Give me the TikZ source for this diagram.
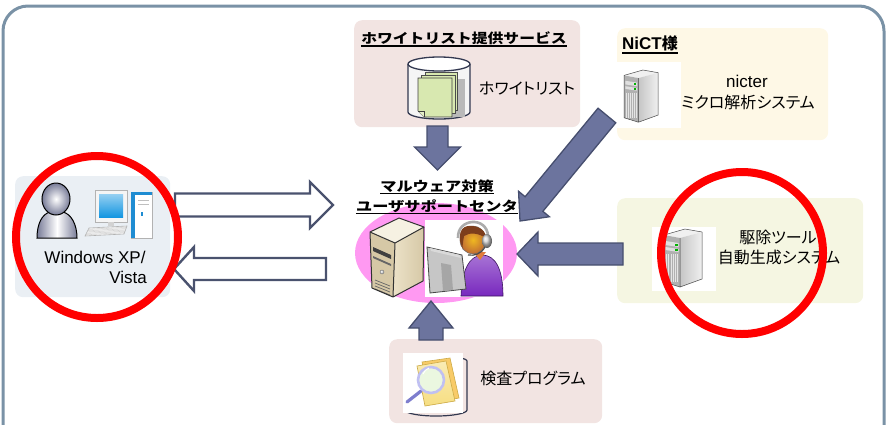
\documentclass[tikz,border=0pt]{standalone}
\usepackage{fontspec}
\usepackage{graphicx}
\setmainfont{Liberation Sans}
\newfontfamily\jpfont[RawFeature=+palt]{Noto Sans CJK JP}
\newfontfamily\jptitle{Noto Sans CJK JP}
\usetikzlibrary{calc,shapes.geometric}

\definecolor{framecol}{RGB}{122,146,166}
\definecolor{arrowfill}{RGB}{108,116,158}
\definecolor{arrowline}{RGB}{70,78,110}
\definecolor{hollowline}{RGB}{74,82,110}
\definecolor{winbg}{RGB}{234,239,244}
\definecolor{rosebg}{RGB}{242,228,226}
\definecolor{creambg}{RGB}{254,248,230}
\definecolor{limebg}{RGB}{245,246,226}
\definecolor{pinkblob}{RGB}{255,153,242}
\definecolor{ringred}{RGB}{255,0,0}
\definecolor{pagegreen}{RGB}{216,232,176}
\definecolor{cylline}{RGB}{50,56,80}
\definecolor{beigefront}{RGB}{214,200,166}
\definecolor{beigeside}{RGB}{236,226,200}
\definecolor{beigetop}{RGB}{246,241,226}
\definecolor{screenblue}{RGB}{20,150,225}
\definecolor{towerblue}{RGB}{30,140,210}
\definecolor{suitpurple}{RGB}{120,40,190}
\definecolor{faceorange}{RGB}{225,125,60}
\definecolor{hairbrown}{RGB}{125,62,28}
\definecolor{folderyellow}{RGB}{246,222,130}
\definecolor{folderedge}{RGB}{205,170,70}
\definecolor{headgray}{RGB}{120,124,152}

\tikzset{
  panel/.style={draw=none, rounded corners=8pt, anchor=north west, inner sep=0pt},
  solidarrow/.style={fill=arrowfill, draw=arrowline, line width=1.3pt, line join=miter},
  hollowarrow/.style={fill=white, draw=hollowline, line width=2.4pt, line join=miter},
  jp/.style={font=\jpfont\fontsize{16}{19}\selectfont, inner sep=0pt, anchor=base},
  jpbold/.style={font=\jptitle\bfseries\fontsize{13.5}{16}\selectfont, inner sep=0pt, anchor=base},
  latin/.style={font=\fontsize{17}{20}\selectfont, inner sep=0pt, anchor=base},
  ring/.style={draw=ringred, line width=8pt},
  titleline/.style={line width=1.4pt},
}

% block arrow: style, start, tip, body half width, head half width, head length
\newcommand\blockarrow[6]{%
  \coordinate (ba-base) at ($(#3)!#6!(#2)$);
  \draw[#1] (#3) -- ($(ba-base)!#5!90:(#3)$) -- ($(ba-base)!#4!90:(#3)$)
    -- ($(#2)!#4!90:(ba-base)$) -- ($(#2)!#4!-90:(ba-base)$)
    -- ($(ba-base)!#4!-90:(#3)$) -- ($(ba-base)!#5!-90:(#3)$) -- cycle;}

% grey tower server, top-left corner at (#1,#2), scaled by #3
\newcommand\graysrv[3]{%
  \begin{scope}[shift={(#1,#2)}, scale=#3]
    \fill[gray!12] (0,6) -- (21,0) -- (38,3) -- (16,9) -- cycle;
    \shade[left color=gray!45, right color=gray!12] (16,9) -- (38,3) -- (38,50) -- (16,58) -- cycle;
    \fill[gray!62] (0,6) -- (16,9) -- (16,58) -- (0,53) -- cycle;
    \foreach \vx in {2.3,4.6,6.9,9.2,11.5,13.8}
      \draw[white!80!gray, line width=0.8pt] (\vx,25) -- (\vx,53);
    \fill[gray!25] (1.5,12) -- (14.5,14) -- (14.5,18) -- (1.5,16) -- cycle;
    \fill[gray!25] (1.5,18) -- (14.5,20) -- (14.5,23) -- (1.5,21) -- cycle;
    \fill[green!70!black] (11,14.5) rectangle (13.5,16.5);
    \fill[green!70!black] (11,20.2) rectangle (13.5,22);
    \draw[gray!55!black, line width=0.5pt] (0,6) -- (21,0) -- (38,3) -- (38,50) -- (16,58) -- (0,53) -- cycle (16,9) -- (16,58);
  \end{scope}}

\begin{document}
\begin{tikzpicture}[x=1pt,y=-1pt]
\useasboundingbox (0,0) rectangle (888,424);

% outer frame, open at the bottom
\draw[framecol, line width=3pt, rounded corners=25pt] (3,440) -- (3,6) -- (884,6) -- (884,440);

% panels
\node[panel, fill=winbg, minimum width=155pt, minimum height=121pt] (winpanel) at (15,176) {};
\node[panel, fill=rosebg, minimum width=226pt, minimum height=107pt] (wlpanel) at (354,20) {};
\node[panel, fill=creambg, minimum width=211pt, minimum height=112pt] (nictpanel) at (617,28) {};
\node[panel, fill=limebg, minimum width=246pt, minimum height=105pt] (toolpanel) at (617,198) {};
\node[panel, fill=rosebg, minimum width=213pt, minimum height=84pt] (progpanel) at (389,339) {};
\node[ellipse, fill=pinkblob, minimum width=162pt, minimum height=100pt, inner sep=0pt] (hub) at (436,253) {};

% ---- client PC: user and desktop computer
\shade[left color=headgray, right color=headgray, middle color=white, draw=black, line width=1pt]
  (37,238) .. controls (37,224) and (42,214) .. (50,212) -- (63,212) .. controls (71,214) and (77,224) .. (77,238) -- cycle;
\shade[inner color=white, outer color=headgray, draw=black, line width=1pt] (56,199) ellipse [x radius=14pt, y radius=16pt];
\draw[fill=gray!8, draw=gray!60, line width=0.6pt] (95,190) rectangle (127,222);
\shade[top color=screenblue!45!white, bottom color=screenblue] (99,194) rectangle (123,217);
\fill[gray!35] (108,222) rectangle (114,226);
\draw[fill=gray!12, draw=gray!60, line width=0.6pt] (85,236) -- (89,228) -- (127,226) -- (124,234) -- cycle;
\foreach \k in {1,...,5} \draw[gray!45, line width=0.3pt] ($(89,228)!\k/6!(85,236)$) -- ($(127,226)!\k/6!(124,234)$);
\draw[fill=white, draw=gray!60, line width=0.6pt] (131,192) rectangle (152,238);
\fill[towerblue] (131,192) rectangle (135,238);
\fill[towerblue] (131,192) rectangle (152,194.5);
\draw[gray!50, line width=0.6pt] (138,200) -- (149,200) (138,204) -- (149,204);
\fill[towerblue] (141,212) rectangle (143,216);

% ---- support centre: beige server
\fill[beigetop] (370,232) -- (399,218) -- (424,227) -- (395,243) -- cycle;
\fill[beigefront] (370,232) -- (395,243) -- (393,297) -- (372,288) -- cycle;
\shade[left color=beigeside, right color=beigefront] (395,243) -- (424,227) -- (423,281) -- (393,297) -- cycle;
\fill[black!75] (373,247) -- (391,255) -- (391,259) -- (373,251) -- cycle;
\fill[black!60] (373,256) -- (391,264) -- (391,266) -- (373,258) -- cycle;
\shade[ball color=gray!30] (382,272) circle (2.2pt);
\foreach \vy in {280,283,286,289}
  \draw[black!60, line width=0.7pt] (375,\vy) -- (390,\vy+6);
\draw[black!80, line width=1pt, line join=round]
  (370,232) -- (399,218) -- (424,227) -- (423,281) -- (393,297) -- (372,288) -- cycle
  (370,232) -- (395,243) -- (424,227) (395,243) -- (393,297);

% ---- support centre: operator with headset
\fill[white] (425,220) rectangle (503,297);
\shade[top color=suitpurple!65!white, bottom color=suitpurple, draw=suitpurple!50!black, line width=0.6pt]
  (461,296) .. controls (462,270) and (469,256) .. (482,255) .. controls (496,255) and (503,270) .. (503,296) -- cycle;
\fill[faceorange] (473,252) -- (486,252) -- (480,260) -- cycle;
\shade[inner color=faceorange!55!yellow, outer color=faceorange!85!black, draw=black!60, line width=0.5pt]
  (473,240) ellipse [x radius=13pt, y radius=14pt];
\fill[hairbrown] (460,241) .. controls (458,226) and (468,224) .. (477,227) .. controls (483,229) and (486,233) .. (486,238)
  .. controls (478,233) and (470,232) .. (464,236) .. controls (463,242) and (462,248) .. (463,250) -- cycle;
\draw[gray!65, line width=2.6pt] (458,238) .. controls (457,218) and (487,216) .. (488,236);
\shade[ball color=gray!35] (487,241) ellipse [x radius=5pt, y radius=7pt];
\draw[black!70, line width=1.2pt] (485,247) .. controls (481,254) and (475,256) .. (468,255);
\draw[fill=gray!45, draw=gray!55!black, line width=0.8pt] (427,247) -- (462,255) -- (466,289) -- (430,293) -- cycle;
\fill[gray!70] (441,263) -- (451,265) -- (453,290) -- (443,291) -- cycle;
\fill[gray!30] (430,248) -- (460,255) -- (461,258) -- (431,251) -- cycle;

% ---- whitelist database
\draw[fill=gray!8, draw=cylline, line width=1.3pt] (408,64) -- (408,112)
  arc[start angle=180, end angle=360, x radius=31pt, y radius=7pt] -- (470,64);
\fill[gray!55] (431,79) rectangle (465,117);
\draw[fill=pagegreen, draw=black!70, line width=0.6pt] (425,72) rectangle (457,110);
\draw[fill=pagegreen, draw=black!70, line width=0.6pt] (421,75) rectangle (455,113);
\draw[fill=pagegreen, draw=black!75, line width=0.7pt] (418,78) -- (452,78) -- (452,117) -- (424,117) -- (418,111) -- cycle;
\draw[fill=pagegreen!70!white, draw=black!75, line width=0.6pt] (418,111) -- (424,111) -- (424,117);
\draw[fill=white, draw=cylline, line width=1.3pt] (439,64) ellipse [x radius=31pt, y radius=7pt];

% ---- analysis and generator servers
\fill[white] (617,62) rectangle (681,128);
\graysrv{624}{70}{0.9}
\fill[white] (652,227) rectangle (716,291);
\graysrv{664}{229}{1.0}

% ---- scanning program
\draw[draw=cylline, line width=1.2pt] (405,361) -- (405,410)
  arc[start angle=180, end angle=360, x radius=31pt, y radius=6pt] -- (467,361)
  arc[start angle=0, end angle=180, x radius=31pt, y radius=5pt];
\fill[white] (403,353) rectangle (463,413);
\draw[fill=folderyellow!80!orange, draw=folderedge, line width=0.6pt] (422,362) -- (450,358) -- (459,398) -- (431,403) -- cycle;
\shade[top color=folderyellow!60!white, bottom color=folderyellow, draw=folderedge, line width=0.6pt]
  (417,366) -- (446,361) -- (455,401) -- (425,406) -- cycle;
\draw[line width=3.2pt, draw=gray!55!blue!70, line cap=round] (421,391) -- (407,402);
\draw[line width=2.6pt, draw=gray!35!blue!30, fill=yellow!35!green!12] (431,380) circle (13pt);
\draw[white, line width=1pt] (423,374) arc[start angle=160, end angle=110, radius=10pt];

% ---- texts
\node[jpbold] (wltitle) at (464,43.5) {\scalebox{1.17}[1]{ホワイトリスト提供サービス}};
\draw[titleline] ([yshift=-2.5pt]wltitle.base west) -- ([yshift=-2.5pt]wltitle.base east);
\node[jp] (wllabel) at (527,94) {ホワイトリスト};

\node[inner sep=0pt, anchor=base west] (nicttitle) at (622,49.5)
  {\fontsize{17}{20}\selectfont\bfseries NiCT{\jptitle\fontsize{16}{20}\selectfont 様}};
\draw[titleline] ([yshift=-3.5pt]nicttitle.base west) -- ([yshift=-3.5pt]nicttitle.base east);
\node[latin] (nicter) at (747,87) {nicter};
\node[jp] (micro) at (748,108) {ミクロ解析システム};

\node[jpbold] (hubtitleA) at (437,191) {\scalebox{1.2}[1]{マルウェア対策}};
\draw[titleline] ([yshift=-2.5pt]hubtitleA.base west) -- ([yshift=-2.5pt]hubtitleA.base east);
\node[jpbold] (hubtitleB) at (437,211) {\scalebox{1.2}[1]{ユーザサポートセンタ}};
\draw[titleline] ([yshift=-2.5pt]hubtitleB.base west) -- ([yshift=-2.5pt]hubtitleB.base east);

\node[jp] (toolA) at (778,243.5) {駆除ツール};
\node[jp] (toolB) at (779,263.5) {自動生成システム};
\node[jp] (proglabel) at (533,384.5) {検査プログラム};

\node[latin] (winA) at (95,263) {Windows XP/};
\node[latin, anchor=base east] (winB) at (147,283) {Vista};

% ---- block arrows
\coordinate (win-out) at (175,205);  \coordinate (hub-in) at (333,205);
\coordinate (hub-out) at (326,269);  \coordinate (win-in) at (174,269);
\coordinate (wl-out) at (437.5,126); \coordinate (wl-in) at (437.5,170);
\coordinate (nict-out) at (606.9,115.5); \coordinate (nict-in) at (520,221);
\coordinate (tool-out) at (623,254); \coordinate (tool-in) at (517,254);
\coordinate (prog-out) at (431,340); \coordinate (prog-in) at (431,301);

\blockarrow{hollowarrow}{win-out}{hub-in}{11.5pt}{23pt}{23pt}
\blockarrow{hollowarrow}{hub-out}{win-in}{11pt}{22pt}{20pt}
\blockarrow{solidarrow}{wl-out}{wl-in}{10.5pt}{23pt}{23pt}
\blockarrow{solidarrow}{nict-out}{nict-in}{11.5pt}{20pt}{22pt}
\blockarrow{solidarrow}{tool-out}{tool-in}{11pt}{22pt}{21pt}
\blockarrow{solidarrow}{prog-out}{prog-in}{12pt}{22pt}{27pt}

% ---- highlight rings
\draw[ring] (97,237) circle (81pt);
\draw[ring] (742,253) circle (81pt);
\end{tikzpicture}
\end{document}
